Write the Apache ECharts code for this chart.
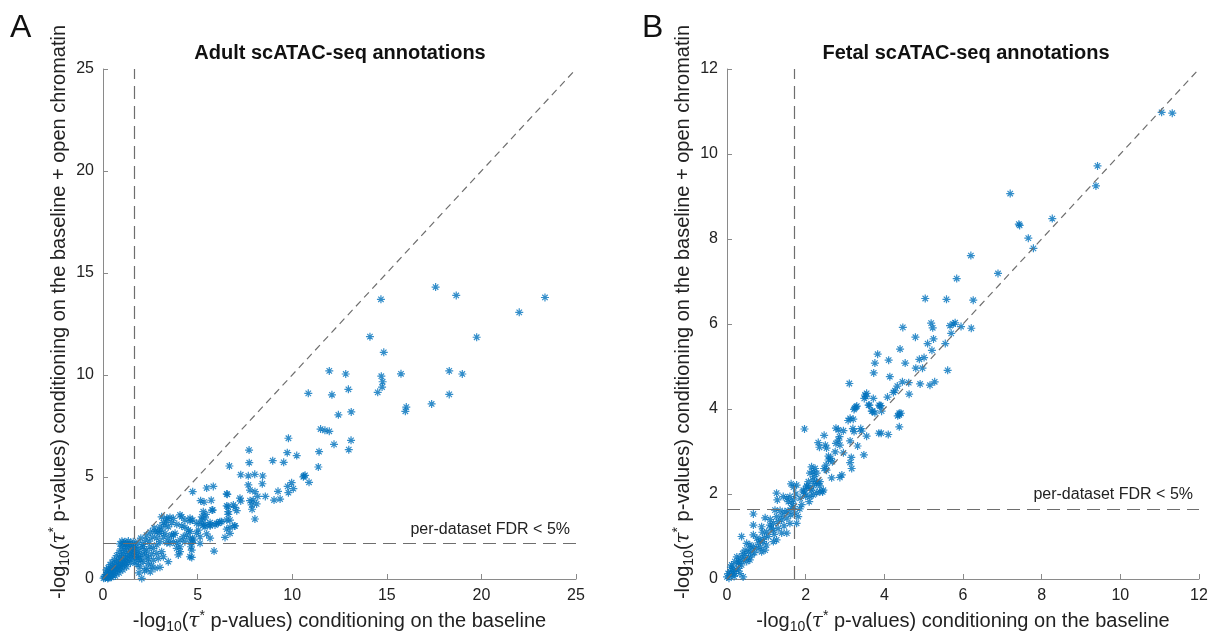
<!DOCTYPE html>
<html>
<head>
<meta charset="utf-8">
<script src="https://cdn.jsdelivr.net/npm/echarts@6/dist/echarts.min.js"></script>
<style>
  html, body { margin: 0; padding: 0; background: #fff; }
  #chart { width: 1212px; height: 634px; }
</style>
</head>
<body>
<div id="chart"></div>
<script>
// adult scATAC-seq: [baseline, baseline + open chromatin]
const adultPts = [
  [17.58,14.31],[18.67,13.9],[23.36,13.8],[22.0,13.07],[14.69,13.71],[14.11,11.88],[14.84,11.11],[19.75,11.85],
  [11.96,10.2],[12.83,10.05],[14.71,9.94],[14.78,9.67],[14.75,9.41],[14.52,9.15],[15.75,10.06],[18.3,10.2],
  [18.99,10.05],[18.3,9.05],[17.37,8.58],[16.03,8.43],[15.98,8.22],[10.85,9.1],[12.1,9.03],[12.97,9.3],
  [12.44,8.05],[13.12,8.19],[11.5,7.35],[11.73,7.29],[11.96,7.24],[12.21,6.6],[13.11,6.8],[12.99,6.34],
  [11.42,6.24],[11.38,5.49],[10.62,5.05],[10.89,4.74],
  [9.8,6.9],[7.72,6.32],[9.74,6.19],[10.24,6.05],[8.97,5.8],[9.55,5.72],[7.73,5.7],[6.68,5.54],[7.28,5.11],
  [7.68,5.06],[8.02,5.13],[8.44,5.05],[8.42,4.67],[7.68,4.61],[7.77,4.36],[8.03,4.28],[4.74,4.28],[5.48,4.46],
  [5.83,4.54],[6.57,4.15],[8.18,4.05],[8.58,4.05],[9.25,4.3],[9.8,4.23],[10.06,4.43],[9.76,4.54],[9.97,4.72],
  [9.04,3.87],[9.36,3.92],[5.16,3.84],[5.34,3.77],[5.72,3.86],[7.24,3.96],[7.28,3.82],[7.77,3.84],[7.86,3.63],
  [8.12,3.68],[6.61,3.55],[6.89,3.63],[6.98,3.51],[7.07,3.35],[5.76,3.38],[7.88,3.42],[5.3,3.3],[5.22,3.05],
  [5.39,3.0],[6.62,3.17],[6.71,2.89],[8.03,2.94],[4.74,2.89],[5.3,2.63],[5.66,2.6],[5.92,2.65],[6.27,2.81],
  [6.71,2.53],[6.94,2.6],[10.59,5.01],[10.68,5.08],
  [6.54,4.17],[6.54,3.58],[6.62,3.3],[5.8,3.38],[5.44,3.17],[4.07,3.14],[4.16,3.05],[3.54,3.02],[3.72,2.97],
  [3.37,2.89],[4.6,2.84],[3.19,2.76],[3.28,2.65],[3.45,2.56],[3.63,2.76],[3.9,2.68],[4.16,2.6],[4.33,2.53],
  [4.51,2.4],[5.13,2.73],[5.39,2.68],[5.66,2.76],[6.09,2.73],[6.18,2.81],[6.54,2.44],[6.71,2.24],[6.45,2.04],
  [5.04,2.4],[4.95,2.24],[5.13,2.07],[5.48,2.21],[5.66,2.0],[4.42,2.16],[4.6,2.0],[4.33,1.83],[4.69,1.78],
  [4.07,1.91],[3.81,2.24],[3.63,2.16],[3.45,2.0],[3.37,1.78],[3.54,1.75],[3.72,1.83],[3.1,2.4],[2.98,2.24],
  [3.19,2.07],[2.84,2.0],[3.01,1.83],[3.9,1.5],[4.07,1.34],[3.98,1.18],[4.69,1.42],[4.69,1.06],[5.87,1.37],
  [3.45,0.85],[3.01,0.57],[2.05,0.03],
  [1.16,1.83],[1.07,1.75],[1.34,1.86],[1.43,1.75],[1.6,1.83],[1.69,1.67],[1.96,1.5],[2.13,1.58],[2.31,1.42],
  [2.48,1.58],[2.66,1.5],[2.84,1.67],[1.78,1.26],[2.05,1.18],[2.31,1.13],[2.57,1.23],[2.84,1.26],[3.1,1.34],
  [1.87,0.93],[2.13,0.85],[2.39,0.77],[2.66,0.93],[2.92,1.01],[3.19,1.09],[1.96,0.6],[2.31,0.52],[2.57,0.64],
  [2.75,0.52],[4.74,1.96],[4.65,1.58],[4.6,1.09],[7.94,3.87],
  [3.1,3.05],[3.37,2.98],[4.33,2.89],[4.6,2.98],[4.95,2.73],[5.22,2.89],[5.39,2.56],[5.66,2.65],[6.0,2.73],
  [6.54,2.89],[6.98,2.6],[2.75,2.32],[3.01,2.56],[3.28,2.24],[3.72,2.16],[3.9,1.75],[4.07,1.58],[4.24,2.07],
  [4.6,2.32],[4.77,1.91],[5.13,1.75],
  [0.03,0.04],[0.08,0.12],[0.12,0.05],[0.15,0.22],[0.2,0.1],[0.22,0.31],[0.27,0.18],[0.3,0.06],[0.33,0.4],
  [0.36,0.25],[0.4,0.12],[0.42,0.48],[0.46,0.33],[0.5,0.2],[0.52,0.58],[0.55,0.42],[0.58,0.27],[0.62,0.66],
  [0.65,0.5],[0.68,0.35],[0.7,0.78],[0.74,0.58],[0.77,0.44],[0.8,0.9],[0.83,0.66],[0.86,0.5],[0.88,1.02],
  [0.92,0.75],[0.95,0.58],[0.98,1.12],[1.01,0.84],[1.04,0.66],[1.07,1.25],[1.1,0.95],[1.13,0.72],[1.16,1.38],
  [1.19,1.05],[1.22,0.8],[1.25,1.5],[1.28,1.15],[1.31,0.9],[1.34,1.6],[1.37,1.25],[1.4,1.0],[1.44,1.68],
  [1.47,1.35],[1.5,1.1],[1.53,1.45],[1.56,1.22],[1.6,1.55],[1.63,1.3],[1.66,1.05],[0.18,0.45],[0.28,0.55],
  [0.38,0.7],[0.48,0.82],[0.6,0.95],[0.72,1.15],[0.85,1.3],[0.95,1.48],[1.05,1.6],[1.0,1.85],[0.9,1.72],
  [1.2,1.72],[0.25,0.02],[0.45,0.08],[0.65,0.15],[0.85,0.3],[1.05,0.45],[1.25,0.6],[1.45,0.78],[1.65,0.85],
  [1.75,1.1],[1.85,1.35],[1.8,0.7],[1.72,1.55],[1.9,1.1],[2.0,0.95],[2.2,1.3],[2.4,1.0],[2.1,1.7],[2.25,1.9],
  [2.45,1.85],[2.6,2.05],[2.0,2.0],[1.85,1.8],[2.3,2.15],[2.5,2.3],[2.7,2.5],[2.9,2.35],[2.2,0.4],[1.9,0.3],
  [2.5,0.35]
];

// fetal scATAC-seq
const fetalPts = [
  [11.05,10.98],[11.32,10.96],[9.42,9.72],[9.38,9.25],[7.2,9.07],[8.27,8.48],[7.42,8.35],[7.44,8.32],
  [7.66,8.02],[7.79,7.78],[6.2,7.61],[6.89,7.19],[5.84,7.07],[5.04,6.6],[5.58,6.58],[6.26,6.56],[4.47,5.92],
  [5.19,6.02],[5.23,5.91],[5.67,5.96],[5.75,6.0],[5.8,6.03],[5.95,5.94],[6.21,5.9],[5.7,5.78],[4.79,5.69],
  [5.25,5.65],[5.1,5.54],[5.55,5.54],[4.4,5.41],[3.83,5.29],[5.21,5.38],[5.01,5.21],[4.89,5.17],[3.76,5.08],
  [4.11,5.15],[4.53,5.08],[4.8,4.96],[4.97,4.96],[3.73,4.85],[4.14,4.76],[5.61,4.91],[3.11,4.6],[4.46,4.64],
  [4.62,4.62],[4.33,4.54],[4.27,4.43],[4.23,4.39],[4.91,4.59],[5.16,4.56],[5.28,4.64],[4.63,4.35],[3.51,4.33],
  [3.55,4.37],[3.72,4.25],[4.08,4.28],[3.6,4.09],[3.87,4.09],[3.91,4.08],[3.25,4.02],[3.3,4.07],[3.68,3.95],
  [3.76,3.91],[4.38,3.9],[3.13,3.78],[3.21,3.76],
  [3.53,4.29],[3.49,4.25],[3.28,4.05],[3.23,3.99],[3.62,4.09],[3.7,3.95],[3.89,4.07],[3.93,3.95],[4.38,3.86],
  [4.42,3.9],[4.34,3.84],[3.08,3.73],[4.38,3.58],[2.77,3.55],[2.83,3.51],[2.96,3.49],[3.2,3.54],[3.23,3.47],
  [3.4,3.54],[3.42,3.48],[3.55,3.36],[3.86,3.43],[3.92,3.43],[4.1,3.4],[2.47,3.38],[1.97,3.53],[2.86,3.35],
  [2.83,3.27],[2.87,3.15],[2.77,3.19],[3.13,3.25],[2.32,3.21],[2.35,3.1],[2.5,3.15],[2.53,3.08],[3.32,3.13],
  [2.96,2.97],[2.75,2.99],[3.48,2.92],[2.58,2.89],[2.64,2.84],[2.68,2.76],[2.58,2.8],[3.16,2.86],[3.13,2.74],
  [3.17,2.6],[2.52,2.68],[2.47,2.6],[2.53,2.56],[2.15,2.64],[2.24,2.6],[2.19,2.52],[2.11,2.49],[2.28,2.49],
  [2.22,2.41],[2.18,2.33],[2.28,2.29],[2.07,2.29],[2.66,2.38],[2.92,2.45],[2.87,2.39],[2.03,2.17],[1.94,2.09],
  [2.36,2.19],[2.43,2.05],[2.28,2.03],[2.19,1.98],[1.98,2.02],
  [2.28,2.25],[2.36,2.29],[2.11,2.13],[2.03,2.19],[1.63,2.24],[1.69,2.16],[1.77,2.21],[1.94,2.05],[2.15,2.09],
  [2.36,2.05],[2.45,2.09],[1.26,2.02],[1.43,1.94],[1.52,1.9],[1.6,1.94],[1.69,1.86],[1.56,1.82],[1.65,1.78],
  [1.86,1.9],[2.09,1.82],[2.11,1.94],[1.28,1.86],[0.67,1.53],[0.97,1.44],[1.22,1.62],[1.35,1.61],[1.47,1.58],
  [1.65,1.66],[1.26,1.47],[1.39,1.39],[1.52,1.43],[1.62,1.51],[1.73,1.55],[1.81,1.47],[1.6,1.31],[1.77,1.31],
  [0.67,1.27],[0.88,1.23],[1.09,1.27],[1.18,1.31],[1.01,1.11],[1.18,1.15],[1.3,1.19],[1.39,1.08],[1.52,1.08],
  [0.37,1.0],[0.67,1.04],[0.76,0.96],[0.84,0.92],[0.92,0.88],[1.18,0.88],[1.26,0.92],[0.97,0.68],[0.88,0.64],
  [0.5,0.84],[0.58,0.8],[0.67,0.76],[0.76,0.72],[0.46,0.68],[0.54,0.64],[0.63,0.56],[0.25,0.52],[0.33,0.49],
  [0.41,0.45],[0.2,0.41],[0.29,0.37],[0.37,0.33],[0.5,0.41],[0.58,0.45],[0.12,0.33],[0.16,0.25],[0.25,0.21],
  [0.08,0.17],[0.03,0.13],[0.0,0.05],[0.12,0.09],[0.2,0.13],[0.33,0.13],[0.41,0.05],
  [0.05,0.02],[0.1,0.28],[0.18,0.06],[0.3,0.25],[0.45,0.55],[0.55,0.5],[0.7,0.62],[0.8,0.85],[0.95,0.98],
  [1.05,1.0],[1.12,1.2],[1.2,1.05],[0.6,0.7],[0.4,0.6],[0.3,0.4],[0.15,0.18],[0.85,0.75],[1.0,0.8],[1.45,1.25],
  [1.55,1.6],[1.7,1.7],[1.85,1.65],[1.9,1.75],[1.75,2.0],[2.0,1.95],[2.2,2.2],[1.4,1.5],[1.3,1.35],[1.1,1.4],
  [0.9,1.1]
];

const adultMax = 25, adultStep = 5;
const fetalMax = 12, fetalStep = 2;
// significance thresholds (dashed lines)
const adultVx = 1.64, adultHy = 1.76;
const fetalVx = 1.71, fetalHy = 1.65;

const titles = ['Adult scATAC-seq annotations', 'Fetal scATAC-seq annotations'];
const panelLetters = ['A', 'B'];
const fdrLabel = 'per-dataset FDR < 5%';
const xName = '-log{s|10}({t|τ}{p|*} p-values) conditioning on the baseline';
const yName = '-log{s|10}({t|τ}{p|*} p-values) conditioning on the baseline + open chromatin';

const blue = '#0072BD';
const axisGray = '#8a8a8a';
const dashGray = '#6e6e6e';
const font = 'Liberation Sans';
const asterisk = 'path://M5 0L5 10M0 5L10 5M1.6 1.6L8.4 8.4M8.4 1.6L1.6 8.4';

const chart = echarts.init(document.getElementById('chart'));

function nameStyle(pad) {
  return {
    fontSize: 20, color: '#222', fontFamily: font, lineHeight: 26, padding: pad,
    rich: {
      s: { fontSize: 14, fontFamily: font, color: '#222', lineHeight: 15, padding: [11, 0, 0, 0] },
      p: { fontSize: 14, fontFamily: font, color: '#222', lineHeight: 15, padding: [0, 0, 11, 0] },
      t: { fontSize: 20, fontFamily: 'DejaVu Serif', fontStyle: 'italic', color: '#222', lineHeight: 26 }
    }
  };
}

function makeAxis(max, step, name, gap, pad) {
  return {
    type: 'value', min: 0, max: max, interval: step,
    name: name, nameLocation: 'middle', nameGap: gap, nameTextStyle: nameStyle(pad),
    axisLine: { show: true, lineStyle: { color: axisGray, width: 1 } },
    axisTick: { show: true, inside: true, length: 5, lineStyle: { color: axisGray } },
    axisLabel: { fontSize: 16, color: '#222', fontFamily: font, margin: 9 },
    splitLine: { show: false }
  };
}

function makeSeries(idx, pts, max, vx, hy) {
  return {
    type: 'scatter', xAxisIndex: idx, yAxisIndex: idx, data: pts,
    symbol: asterisk, symbolSize: 8,
    itemStyle: { color: 'rgba(0,0,0,0)', borderColor: blue, borderWidth: 1.2 },
    markLine: {
      silent: true, symbol: 'none', animation: false,
      label: { show: false },
      lineStyle: { color: dashGray, width: 1.2, type: [13, 7] },
      data: [
        [{ coord: [0, 0], lineStyle: { type: [7, 5], color: dashGray, width: 1.2 } }, { coord: [max, max] }],
        { xAxis: vx },
        {
          yAxis: hy,
          label: {
            show: true, position: 'insideEndTop', formatter: fdrLabel, distance: 6,
            fontSize: 16, color: '#222', fontFamily: font
          }
        }
      ]
    }
  };
}

const grids = [
  { left: 103, top: 69, width: 473, height: 510, outerBoundsMode: 'none', containLabel: false },
  { left: 727, top: 69, width: 472, height: 510, outerBoundsMode: 'none', containLabel: false }
];

const yPad = [0, 0, 0, 24];

chart.setOption({
  animation: false,
  grid: grids,
  xAxis: [
    makeAxis(adultMax, adultStep, xName, 25, 0),
    Object.assign(makeAxis(fetalMax, fetalStep, xName, 25, 0), { gridIndex: 1 })
  ],
  yAxis: [
    makeAxis(adultMax, adultStep, yName, 25, yPad),
    Object.assign(makeAxis(fetalMax, fetalStep, yName, 25, yPad), { gridIndex: 1 })
  ],
  series: [
    makeSeries(0, adultPts, adultMax, adultVx, adultHy),
    makeSeries(1, fetalPts, fetalMax, fetalVx, fetalHy)
  ],
  graphic: [
    { type: 'text', x: 10, y: 12, style: { text: panelLetters[0], fontSize: 32, fontFamily: font, fill: '#111' } },
    { type: 'text', x: 642, y: 12, style: { text: panelLetters[1], fontSize: 32, fontFamily: font, fill: '#111' } },
    { type: 'text', x: 340, y: 53, style: { text: titles[0], fontSize: 20, fontWeight: 'bold', fontFamily: font, fill: '#111', align: 'center', verticalAlign: 'middle' } },
    { type: 'text', x: 966, y: 53, style: { text: titles[1], fontSize: 20, fontWeight: 'bold', fontFamily: font, fill: '#111', align: 'center', verticalAlign: 'middle' } }
  ]
});
</script>
</body>
</html>
